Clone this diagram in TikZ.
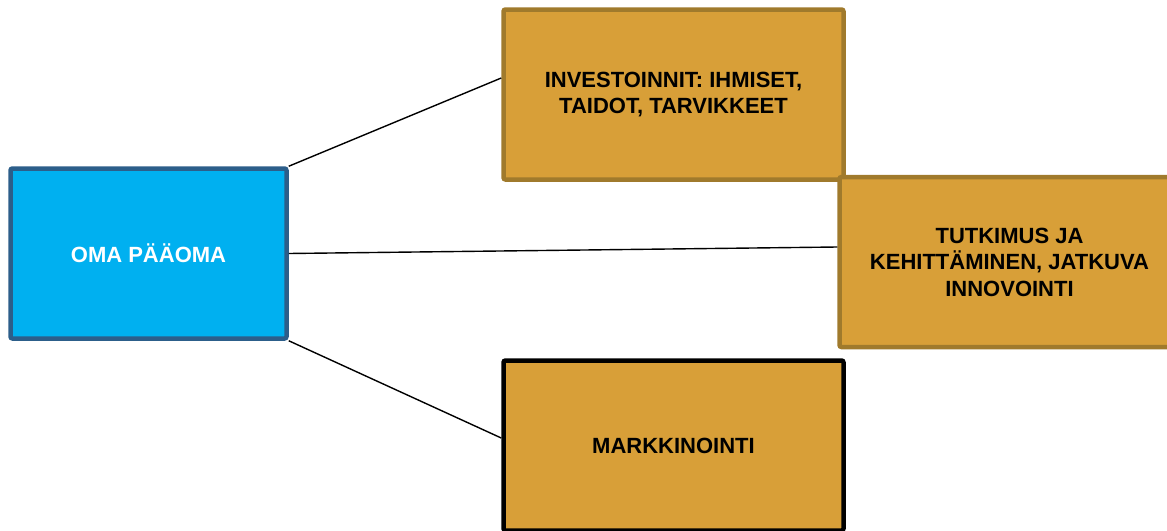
\documentclass[tikz,border=0pt]{standalone}
\usepackage{fontspec}
\setmainfont{Liberation Sans}
\definecolor{capblue}{HTML}{00B0F0}
\definecolor{capedge}{HTML}{2C5E8A}
\definecolor{gold}{HTML}{D89F38}
\definecolor{goldedge}{HTML}{A07A2C}
\begin{document}
\begin{tikzpicture}[x=1pt,y=-1pt,
    box/.style={draw, line width=4.5pt, rounded corners=2pt, inner sep=0pt,
      minimum width=340pt, minimum height=170pt, align=center,
      font=\fontsize{22}{26.5}\selectfont\bfseries},
    capbox/.style={box, fill=capblue, draw=capedge, text=white, minimum width=276pt},
    goldbox/.style={box, fill=gold, draw=goldedge},
    link/.style={line width=1.4pt}]
      \useasboundingbox (0,0) rectangle (1167,530);
      \node[capbox] (oma) at (148.5,253.5) {OMA PÄÄOMA};
      \node[goldbox] (inv) at (673.5,94.5) {INVESTOINNIT: IHMISET,\\TAIDOT, TARVIKKEET};
      \node[goldbox] (rd) at (1009.5,262) {TUTKIMUS JA\\KEHITTÄMINEN, JATKUVA\\INNOVOINTI};
      \node[goldbox, draw=black] (mark) at (673.5,445.5) {MARKKINOINTI};
      \begin{scope}[link]
        \draw (oma.north east) to ([yshift=16.5pt]inv.west);
        \draw (oma.east) to ([yshift=15pt]rd.west);
        \draw (oma.south east) to ([yshift=7.5pt]mark.west);
      \end{scope}
    \end{tikzpicture}
\end{document}
